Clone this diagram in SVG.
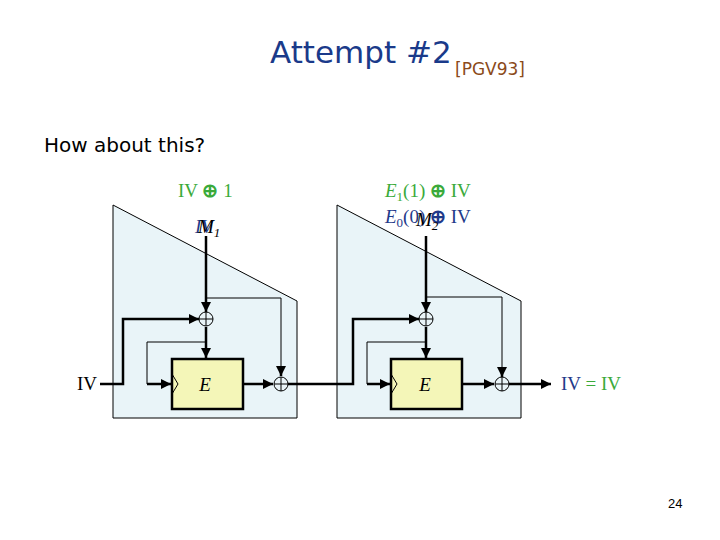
<svg xmlns="http://www.w3.org/2000/svg" width="720" height="540" viewBox="0 0 720 540">
<style>
.blk{fill:#e9f4f8;stroke:#000;stroke-width:1}
.enc{fill:#f4f6b8;stroke:#000;stroke-width:2.5}
.thk{fill:none;stroke:#000;stroke-width:2.5}
.thn{fill:none;stroke:#000;stroke-width:1}
.xor{fill:#e9f4f8;stroke:#000;stroke-width:1}
.m{font-family:"Liberation Serif",serif;font-size:19px}
.g{fill:#3aaa3a}
.b{fill:#1f3a8a}
.it{font-style:italic}
.op{font-weight:bold}
</style>
<defs>
<marker id="ah" viewBox="0 0 10 10" refX="10" refY="5" markerWidth="10" markerHeight="10" markerUnits="userSpaceOnUse" orient="auto">
<path d="M0,0 L10,5 L0,10 z" fill="#000"/>
</marker>
</defs>
<text x="270" y="63" font-family="'DejaVu Sans',sans-serif" font-size="31" fill="#1a3a8a">Attempt #2</text>
<text x="455" y="75" font-family="'DejaVu Sans',sans-serif" font-size="17" fill="#8b4a1a">[PGV93]</text>
<text x="44" y="152" font-family="'DejaVu Sans',sans-serif" font-size="20" fill="#000">How about this?</text>
<text x="668" y="508" font-family="'Liberation Sans',sans-serif" font-size="13" fill="#000">24</text>

<g id="block1">
<polygon class="blk" points="113,205 297,301 297,418 113,418"/>
<rect class="enc" x="172" y="359" width="71" height="50"/>
<polyline class="thn" points="172,374 178,384 172,394"/>
<text x="205" y="391" class="m it" text-anchor="middle" font-size="20">E</text>
</g>
<g id="block2">
<polygon class="blk" points="337,205 521,301 521,418 337,418"/>
<rect class="enc" x="391" y="359" width="71" height="50"/>
<polyline class="thn" points="391,374 397,384 391,394"/>
<text x="425" y="391" class="m it" text-anchor="middle" font-size="20">E</text>
</g>

<g id="connectors">
<line class="thk" x1="206" y1="236" x2="206" y2="312" marker-end="url(#ah)"/>
<line class="thk" x1="206" y1="327" x2="206" y2="358" marker-end="url(#ah)"/>
<polyline class="thn" points="206,298 281,298 281,370"/>
<line class="thk" x1="281" y1="368" x2="281" y2="376" marker-end="url(#ah)"/>
<polyline class="thk" points="100,384 123,384 123,319 199,319" marker-end="url(#ah)"/>
<polyline class="thn" points="206,342 147,342 147,384"/>
<line class="thk" x1="147" y1="384" x2="171" y2="384" marker-end="url(#ah)"/>
<line class="thk" x1="243" y1="384" x2="273" y2="384" marker-end="url(#ah)"/>
<polyline class="thk" points="288,384 353,384 353,319 419,319" marker-end="url(#ah)"/>
<line class="thk" x1="426" y1="236" x2="426" y2="312" marker-end="url(#ah)"/>
<line class="thk" x1="426" y1="327" x2="426" y2="358" marker-end="url(#ah)"/>
<polyline class="thn" points="426,297 502,297 502,370"/>
<line class="thk" x1="502" y1="368" x2="502" y2="377" marker-end="url(#ah)"/>
<polyline class="thn" points="426,342 367,342 367,384"/>
<line class="thk" x1="367" y1="384" x2="390" y2="384" marker-end="url(#ah)"/>
<line class="thk" x1="462" y1="384" x2="494" y2="384" marker-end="url(#ah)"/>
<line class="thk" x1="509" y1="384" x2="551" y2="384" marker-end="url(#ah)"/>
</g>

<g id="xor1a"><circle class="xor" cx="206" cy="319" r="7"/><path class="thn" d="M199,319H213M206,312V326"/></g>
<g id="xor1b"><circle class="xor" cx="281" cy="384" r="7"/><path class="thn" d="M274,384H288M281,377V391"/></g>
<g id="xor2a"><circle class="xor" cx="426" cy="319" r="7"/><path class="thn" d="M419,319H433M426,312V326"/></g>
<g id="xor2b"><circle class="xor" cx="502" cy="384" r="7"/><path class="thn" d="M495,384H509M502,377V391"/></g>

<g id="labels">
<text x="178" y="197" class="m g">IV <tspan class="op">⊕</tspan> 1</text>
<text x="195" y="233" class="m b it">IV</text>
<text x="198" y="233" class="m it" fill="#000">M<tspan font-size="13" dy="4">1</tspan></text>
<text x="385" y="197" class="m g"><tspan class="it">E</tspan><tspan font-size="13" dy="4">1</tspan><tspan dy="-4">(1) </tspan><tspan class="op">⊕</tspan> IV</text>
<text x="385" y="223" class="m b"><tspan class="it">E</tspan><tspan font-size="13" dy="4">0</tspan><tspan dy="-4">(0) </tspan><tspan class="op">⊕</tspan> IV</text>
<text x="416" y="226" class="m it" fill="#000">M<tspan font-size="13" dy="4">2</tspan></text>
<text x="77" y="390" class="m" fill="#000">IV</text>
<text x="561" y="390" class="m" font-size="20"><tspan class="b">IV</tspan><tspan class="g"> = IV</tspan></text>
</g>
</svg>
